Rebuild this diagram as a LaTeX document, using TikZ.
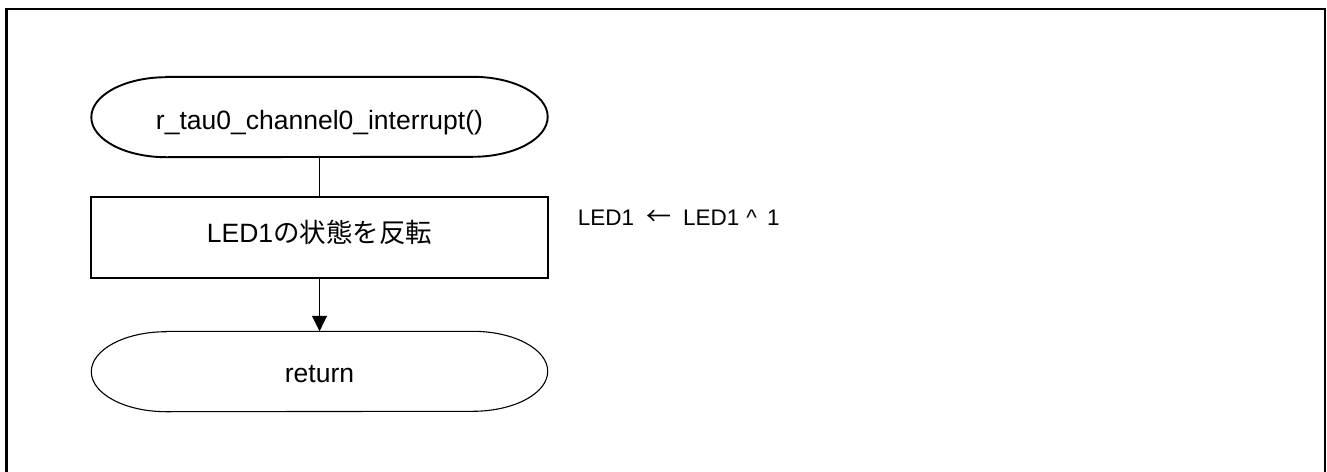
\documentclass[tikz,border=0pt]{standalone}
\usepackage{fontspec}
\setmainfont{Liberation Sans}
\newfontfamily\jp{Noto Sans CJK JP}
\usetikzlibrary{arrows.meta}
\begin{document}
\begin{tikzpicture}[x=1pt,y=-1pt,
  nodefont/.style={font=\fontsize{26.5}{30}\selectfont},
  notefont/.style={font=\fontsize{22.5}{26}\selectfont},
  termbase/.style={rectangle,draw=none,inner sep=0pt,minimum width=456pt,minimum height=80pt},
  procbox/.style={rectangle,draw,line width=2pt,inner sep=0pt,minimum width=457pt,minimum height=81pt},
  label text/.style={nodefont,anchor=base,inner sep=0pt},
  frameline/.style={line width=2.3pt,line join=miter},
  conn/.style={line width=1.5pt},
  termstart/.style={line width=1.9pt},
  termend/.style={line width=1.1pt}]
\useasboundingbox (0,0) rectangle (1327,471);
\fill[white] (0,0) rectangle (1327,471);
% frame
\coordinate (fbl) at (6.5,472);
\coordinate (ftl) at (6.5,9);
\coordinate (ftr) at (1325,9);
\coordinate (fbr) at (1325,472);
\draw[frameline] (fbl) -- (ftl) -- (ftr) -- (fbr);
% nodes
\node[termbase] (start) at (319.5,117) {};
\node[label text] (starttext) at (319.5,129) {r\_tau0\_channel0\_interrupt()};
\node[procbox] (proc) at (319.5,237.5) {};
\node[label text] (proctext) at (319.5,242) {LED1{\jp の状態を反転}};
\node[termbase] (ret) at (319.5,371.5) {};
\node[label text] (rettext) at (319.5,382.7) {return};
\node[notefont,anchor=base west,inner sep=0pt] (note) at (577.7,225)
  {LED1\hspace{12pt}{\jp\fontsize{25}{30}\selectfont ←}\hspace{12pt}LED1\hspace{7pt}\^{}\hspace{10pt}1};
% terminal outlines
\draw[termstart] ([xshift=75pt]start.north west) -- ([xshift=-75pt]start.north east)
  arc[start angle=90,end angle=-90,x radius=75pt,y radius=40pt]
  -- ([xshift=75pt]start.south west)
  arc[start angle=270,end angle=90,x radius=75pt,y radius=40pt] -- cycle;
\draw[termend] ([xshift=75pt]ret.north west) -- ([xshift=-75pt]ret.north east)
  arc[start angle=90,end angle=-90,x radius=75pt,y radius=40pt]
  -- ([xshift=75pt]ret.south west)
  arc[start angle=270,end angle=90,x radius=75pt,y radius=40pt] -- cycle;
% connectors
\draw[conn] (start.south) -- (proc.north);
\draw[conn,-{Triangle[width=15pt,length=15.5pt]}] (proc.south) -- (ret.north);
\end{tikzpicture}
\end{document}
